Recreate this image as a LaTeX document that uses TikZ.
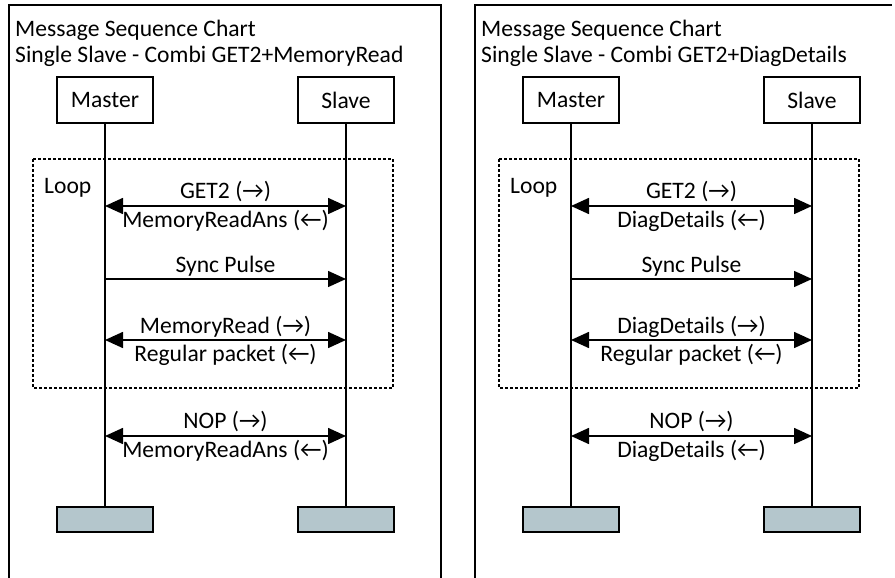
\documentclass[tikz,border=0pt]{standalone}
\usepackage{fontspec}
\setmainfont{Carlito}
\usetikzlibrary{arrows.meta,positioning}
\definecolor{endgrey}{RGB}{180,198,204}
\tikzset{actor/.style={draw,line width=1.2pt,minimum width=96pt,minimum
height=46pt,inner sep=0pt,font=\fontsize{23.6}{28}\selectfont},endbar/.style={draw,fill=endgrey,line
width=1.2pt,minimum width=96pt,minimum height=25pt,inner sep=0pt},
lbl/.style={font=\fontsize{23.6}{28}\selectfont,inner sep=0pt}}

\begin{document}
\begin{tikzpicture}[
		x=1pt,y=-1pt,
		lifeline/.style={line width=1.2pt},
		msg/.style={line width=1.4pt,-{Triangle[length=18pt,width=16pt]}},
		dmsg/.style={line width=1.6pt,{Triangle[length=18pt,width=16pt]}-{Triangle[length=18pt,width=16pt]}},
		loopbox/.style={line width=1.2pt,dash pattern=on 3pt off 2pt}
	]
	\useasboundingbox (0,0) rectangle (895,578);
	% frames
	\draw[line width=1.3pt] (9,578) -- (9,5) -- (441,5) -- (441,578);
	\draw[line width=1.3pt] (475,578) -- (475,5) -- (892,5);
	\foreach \p/\dx/\req/\ans in {l/0/MemoryRead/MemoryReadAns,r/466/DiagDetails/DiagDetails}{
		\begin{scope}[xshift=\dx pt]
			\node[lbl,anchor=base west] (\p title) at (15,37) {Message Sequence Chart};
			\node[lbl,anchor=base west] (\p sub) at (15,63) {Single Slave - Combi GET2+\req};
			\node[actor] (\p master) at (105,100) {Master};
			\node[actor] (\p slave) at (346,100) {Slave};
			\node[endbar] (\p mend) at (105,519.5) {};
			\node[endbar] (\p send) at (346,519.5) {};
			\draw[lifeline] (\p master) -- (\p mend);
			\draw[lifeline] (\p slave) -- (\p send);
			% loop frame
			\draw[loopbox] (33,159) rectangle (393,388);
			\node[lbl,anchor=base west] (\p loop) at (44,193) {Loop};
			% messages
			\coordinate (\p m1) at (105,206);
			\coordinate (\p s1) at (346,206);
			\coordinate (\p m2) at (105,279);
			\coordinate (\p s2) at (346,279);
			\coordinate (\p m3) at (105,340);
			\coordinate (\p s3) at (346,340);
			\coordinate (\p m4) at (105,436);
			\coordinate (\p s4) at (346,436);
			\draw[dmsg] (\p m1) -- node[lbl,anchor=base,yshift=8pt] (\p a1) {GET2 (→)}
				node[lbl,anchor=base,yshift=-21pt] (\p b1) {\ans\ (←)} (\p s1);
			\draw[msg] (\p m2) -- node[lbl,anchor=base,yshift=7pt] (\p a2) {Sync Pulse} (\p s2);
			\draw[dmsg] (\p m3) -- node[lbl,anchor=base,yshift=7pt] (\p a3) {\req\ (→)}
				node[lbl,anchor=base,yshift=-21pt] (\p b3) {Regular packet (←)} (\p s3);
			\draw[dmsg] (\p m4) -- node[lbl,anchor=base,yshift=8pt] (\p a4) {NOP (→)}
				node[lbl,anchor=base,yshift=-21pt] (\p b4) {\ans\ (←)} (\p s4);
		\end{scope}
	}
\end{tikzpicture}
\end{document}
